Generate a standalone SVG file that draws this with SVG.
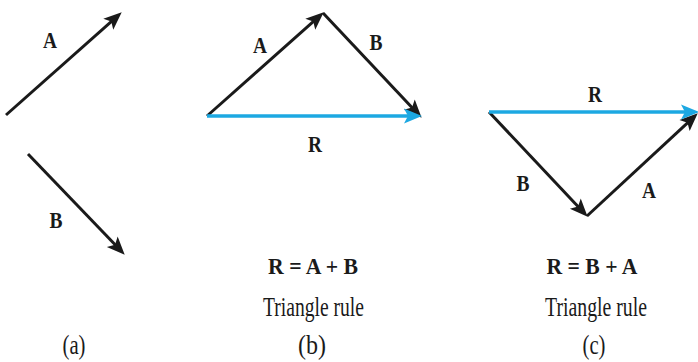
<svg xmlns="http://www.w3.org/2000/svg" width="698" height="362" viewBox="0 0 698 362">
<defs>
<marker id="hk" markerUnits="userSpaceOnUse" markerWidth="24" markerHeight="24" viewBox="-10 -12 24 24" refX="0" refY="0" orient="auto" overflow="visible">
<path d="M11,0 L-7,-7.5 L-3,0 L-7,7.5 Z" fill="#1a1a1a"/>
</marker>
<marker id="hb" markerUnits="userSpaceOnUse" markerWidth="24" markerHeight="24" viewBox="-10 -12 24 24" refX="0" refY="0" orient="auto" overflow="visible">
<path d="M11,0 L-7,-7.5 L-3,0 L-7,7.5 Z" fill="#1ca8e2"/>
</marker>
</defs>
<style>
.v{stroke:#1a1a1a;stroke-width:3;fill:none;marker-end:url(#hk)}
.r{stroke:#1ca8e2;stroke-width:3.5;fill:none;marker-end:url(#hb)}
.lb{font-family:"Liberation Serif","Times New Roman",serif;font-weight:bold;font-size:24px;fill:#1a1a1a;text-anchor:middle}
.eq{font-family:"Liberation Serif","Times New Roman",serif;font-weight:bold;font-size:23px;fill:#1a1a1a;text-anchor:middle}
.cap{font-family:"Liberation Serif","Times New Roman",serif;font-size:28px;fill:#1a1a1a;text-anchor:middle}
</style>
<rect width="698" height="362" fill="#ffffff"/>
<g id="connectors">
<line id="a-A" class="v" x1="6" y1="115" x2="113.5" y2="19.6"/>
<line id="a-B" class="v" x1="28" y1="154" x2="117.1" y2="246.8"/>
<line id="b-A" class="v" x1="207" y1="116" x2="315.5" y2="19.6"/>
<line id="b-B" class="v" x1="323" y1="13" x2="414.1" y2="109.7"/>
<line id="b-R" class="r" x1="207" y1="116" x2="411" y2="116"/>
<line id="c-B" class="v" x1="489" y1="112" x2="580.1" y2="208.7"/>
<line id="c-A" class="v" x1="587" y1="216" x2="689.7" y2="120.8"/>
<line id="c-R" class="r" x1="489" y1="112" x2="688" y2="112"/>
</g>
<g id="panel-a">
<text class="lb" x="50" y="48" textLength="14" lengthAdjust="spacingAndGlyphs">A</text>
<text class="lb" x="56" y="228" textLength="13" lengthAdjust="spacingAndGlyphs">B</text>
<text class="cap" x="74" y="354" textLength="23" lengthAdjust="spacingAndGlyphs">(a)</text>
</g>
<g id="panel-b">
<text class="lb" x="260" y="53" textLength="14" lengthAdjust="spacingAndGlyphs">A</text>
<text class="lb" x="376" y="50" textLength="13" lengthAdjust="spacingAndGlyphs">B</text>
<text class="lb" x="315" y="152" textLength="14" lengthAdjust="spacingAndGlyphs">R</text>
<text class="eq" x="313" y="274" textLength="90" lengthAdjust="spacingAndGlyphs">R = A + B</text>
<text class="cap" x="313.5" y="316" textLength="101" lengthAdjust="spacingAndGlyphs">Triangle rule</text>
<text class="cap" x="312" y="354" textLength="28" lengthAdjust="spacingAndGlyphs">(b)</text>
</g>
<g id="panel-c">
<text class="lb" x="595" y="102" textLength="14" lengthAdjust="spacingAndGlyphs">R</text>
<text class="lb" x="523" y="191" textLength="13" lengthAdjust="spacingAndGlyphs">B</text>
<text class="lb" x="649" y="198" textLength="14" lengthAdjust="spacingAndGlyphs">A</text>
<text class="eq" x="592" y="274" textLength="91" lengthAdjust="spacingAndGlyphs">R = B + A</text>
<text class="cap" x="596" y="316" textLength="102" lengthAdjust="spacingAndGlyphs">Triangle rule</text>
<text class="cap" x="594" y="354" textLength="23" lengthAdjust="spacingAndGlyphs">(c)</text>
</g>
</svg>
